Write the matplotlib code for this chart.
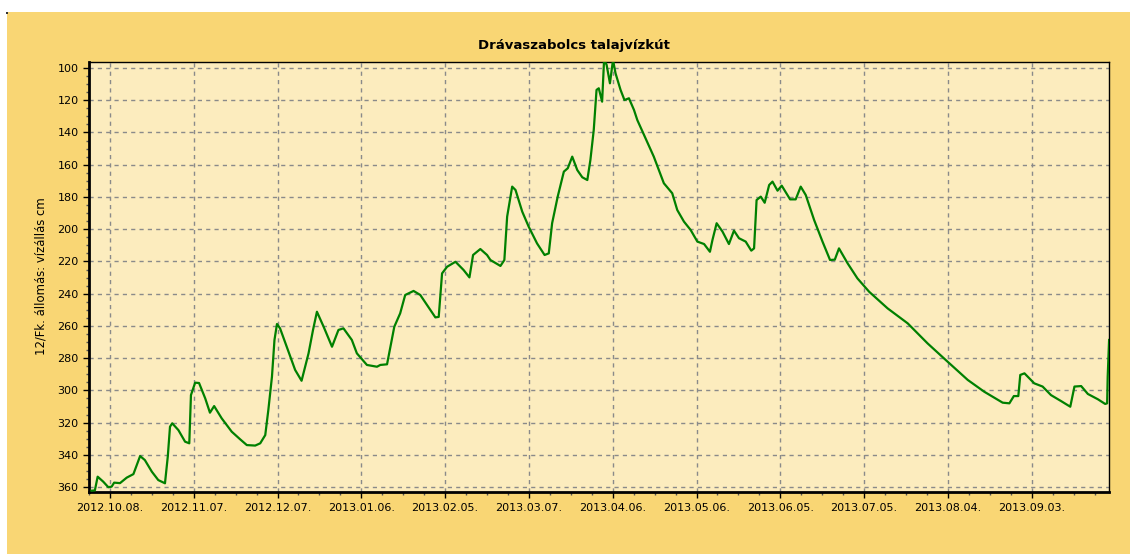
import matplotlib
matplotlib.use('Agg')
import matplotlib.pyplot as plt
import matplotlib.dates as mdates
from matplotlib.patches import Rectangle
from matplotlib.ticker import MultipleLocator, FixedLocator, FuncFormatter
import numpy as np
import pandas as pd

# data: days after 2012-10-08, water level in cm
start_date = '2012-10-08'
day_offsets = [
    -6.6, -5.4, -4.4, -2.4, -0.6, 0.6, 1.5, 3.6, 6.0, 8.4,
    10.8, 12.5, 15.0, 17.3, 19.7, 20.7, 21.5, 22.3, 24.5, 26.9,
    28.4, 29.0, 30.5, 31.9, 34.1, 35.8, 37.3, 40.0, 43.6, 46.6,
    49.0, 52.0, 53.8, 55.6, 56.7, 58.0, 58.9, 59.8, 60.9, 63.3,
    66.3, 68.6, 71.1, 72.7, 74.1, 76.5, 79.5, 81.8, 83.6, 86.6,
    88.4, 92.0, 95.6, 96.8, 99.2, 101.8, 103.9, 105.7, 108.7, 111.1,
    113.5, 116.5, 117.7, 118.9, 120.7, 123.7, 126.6, 128.7, 130.0, 132.6,
    135.0, 136.2, 139.8, 141.2, 142.2, 144.0, 145.2, 147.6, 149.9, 152.9,
    155.6, 157.1, 158.3, 160.3, 162.5, 163.9, 165.5, 167.3, 169.1, 170.9,
    172.0, 173.2, 174.2, 175.0, 176.2, 176.9, 177.8, 179.0, 180.1, 181.0,
    182.8, 184.2, 185.8, 187.6, 188.8, 191.2, 194.7, 198.3, 201.3, 203.1,
    205.5, 207.9, 210.3, 212.7, 214.8, 215.7, 217.2, 219.3, 221.6, 223.4,
    225.2, 227.6, 229.6, 230.6, 231.5, 233.0, 234.4, 236.0, 237.2, 239.0,
    240.5, 243.5, 245.5, 247.3, 249.1, 252.1, 255.1, 257.8, 259.5, 261.0,
    264.1, 267.6, 271.8, 278.4, 285.6, 292.7, 299.9, 307.1, 313.0, 319.6,
    322.0, 323.6, 325.2, 325.9, 327.4, 330.9, 333.9, 336.9, 340.5, 343.8,
    345.3, 347.7, 350.1, 353.7, 356.3, 357.0, 357.2, 357.7,
]
water_level = [
    362.2, 362.0, 353.5, 356.6, 360.0, 359.7, 357.2, 357.5, 354.1, 351.9,
    340.7, 343.2, 350.4, 355.6, 357.6, 341.1, 322.5, 320.4, 324.6, 331.8,
    332.8, 302.9, 295.2, 295.4, 304.9, 313.8, 309.7, 317.3, 325.6, 330.3,
    333.9, 334.2, 332.8, 327.7, 312.2, 291.5, 268.7, 258.8, 261.5, 272.9,
    287.3, 294.0, 277.0, 262.5, 251.2, 260.5, 272.9, 262.5, 261.5, 268.7,
    277.0, 284.2, 285.3, 284.2, 283.8, 260.5, 252.2, 240.8, 238.3, 240.8,
    247.0, 254.7, 254.4, 227.4, 223.3, 220.2, 225.3, 229.9, 216.0, 212.3,
    216.0, 219.1, 222.8, 219.1, 192.2, 173.6, 175.7, 189.1, 198.4, 208.8,
    216.0, 215.0, 196.3, 179.8, 164.3, 162.2, 155.0, 163.3, 167.8, 169.5,
    157.1, 138.5, 113.6, 112.6, 120.9, 95.0, 98.0, 109.5, 95.0, 103.3,
    113.6, 119.9, 118.8, 126.0, 132.3, 141.6, 155.0, 171.5, 177.7, 188.1,
    195.3, 200.5, 207.7, 209.2, 214.0, 206.7, 196.3, 201.5, 209.2, 200.9,
    205.6, 207.7, 213.3, 211.9, 181.9, 179.8, 183.6, 172.6, 170.5, 176.1,
    173.0, 181.5, 181.5, 173.6, 178.8, 194.3, 207.7, 219.1, 218.9, 211.9,
    221.2, 230.5, 238.8, 249.1, 258.4, 270.8, 282.2, 293.5, 300.8, 307.6,
    308.0, 303.5, 303.5, 290.4, 289.4, 295.6, 297.6, 302.9, 306.6, 310.1,
    297.6, 297.3, 302.2, 305.5, 308.4, 308.0, 291.5, 268.7,
]
tick_dates = ['2012-10-08', '2012-11-07', '2012-12-07', '2013-01-06', '2013-02-05',
              '2013-03-07', '2013-04-06', '2013-05-06', '2013-06-05', '2013-07-05',
              '2013-08-04', '2013-09-03']

dates = pd.Timestamp(start_date) + pd.to_timedelta(day_offsets, unit='D')

fig = plt.figure(figsize=(11.3, 5.54), dpi=100, facecolor='white')
# orange panel behind everything, white strip on top and left
fig.patches.append(Rectangle((7 / 1130, 0), 1 - 7 / 1130, 1 - 12 / 554,
                             transform=fig.transFigure, facecolor='#f9d674',
                             edgecolor='none', zorder=-10))
# little dark corner mark
fig.patches.append(Rectangle((6 / 1130, 1 - 14 / 554), 2 / 1130, 2 / 554,
                             transform=fig.transFigure, facecolor='#333333',
                             edgecolor='none', zorder=-9))

ax = fig.add_axes([89 / 1130, 1 - 492 / 554, 1020 / 1130, 430 / 554])
ax.set_facecolor('#fcecbe')

ax.plot(dates, water_level, color='#008000', lw=1.6, zorder=3)

ax.set_xlim(pd.Timestamp('2012-09-30 12:00'), pd.Timestamp('2013-09-30 16:00'))
ax.set_ylim(363, 96.3)

major = mdates.date2num(pd.to_datetime(tick_dates))
ax.xaxis.set_major_locator(FixedLocator(major))
minor = np.arange(major[0] - 7.5, major[-1] + 30, 7.5)
ax.xaxis.set_minor_locator(FixedLocator(minor))
ax.xaxis.set_major_formatter(mdates.DateFormatter('%Y.%m.%d.'))

ax.yaxis.set_major_locator(MultipleLocator(20))
ax.yaxis.set_minor_locator(MultipleLocator(5))
ax.yaxis.set_major_formatter(FuncFormatter(lambda v, p: '%d' % v))

ax.grid(True, which='major', color='#8a8a8a', linestyle=(0, (3, 3)), lw=1)
ax.tick_params(axis='both', which='major', labelsize=8, length=4, width=1, color='black')
ax.tick_params(axis='both', which='minor', length=2, width=1, color='#555555')
ax.tick_params(axis='x', pad=4)

for side in ['left', 'bottom']:
    ax.spines[side].set_linewidth(2)
for side in ['top', 'right']:
    ax.spines[side].set_linewidth(1)

fig.text(574 / 1130, 1 - 45 / 554, 'Drávaszabolcs talajvízkút', fontsize=9.5,
         fontweight='bold', ha='center', va='center')
ax.set_ylabel('12/Fk. állomás: vízállás cm', fontsize=8.4)
ax.yaxis.set_label_coords(-41 / 1020, (492 - 276) / 430)

plt.savefig('out.png', dpi=100, facecolor=fig.get_facecolor())
